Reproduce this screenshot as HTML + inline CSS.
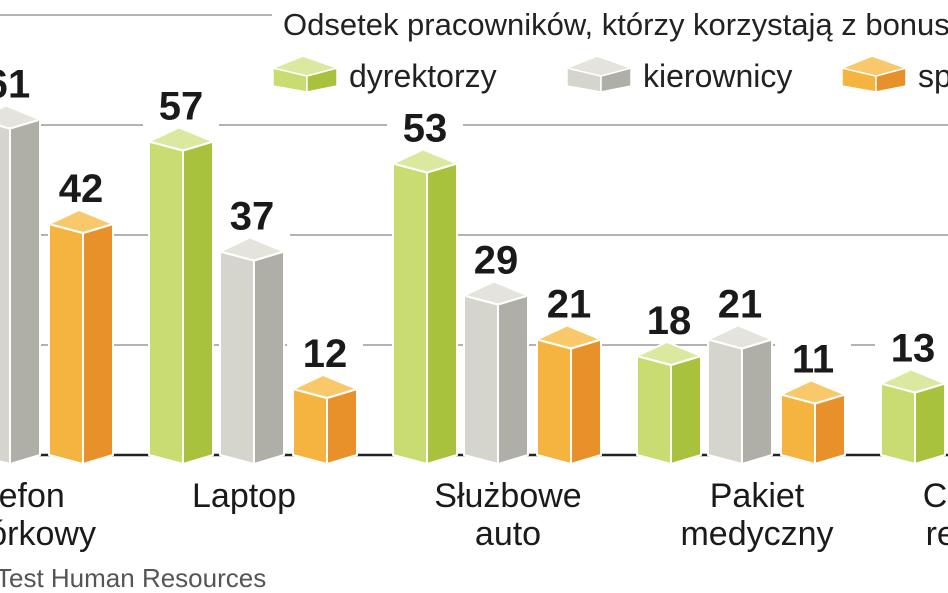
<!DOCTYPE html>
<html><head><meta charset="utf-8"><style>
html,body{margin:0;padding:0;background:#fff;width:948px;height:593px;overflow:hidden}
svg{display:block;font-family:"Liberation Sans","DejaVu Sans",sans-serif}
</style></head><body>
<svg id="chart" width="948" height="593" viewBox="0 0 948 593">
<g id="grid"></g>
<g id="bars"></g>
<g id="labels"></g>
<g id="cats"></g>
<text x="283" y="35" font-size="31" fill="#222">Odsetek pracowników, którzy korzystają z bonusów (%)</text>
<g id="legend"></g>
<text x="-4" y="587" font-size="26" fill="#555">Test Human Resources</text>
</svg>
<script>
const categories = [["Telefon","komórkowy"],["Laptop"],["Służbowe","auto"],["Pakiet","medyczny"],["Częściowa","refundacja","paliwa"]];
const dyrektorzy = [75, 57, 53, 18, 13];
const kierownicy = [61, 37, 29, 21, 19];
const specjalisci = [42, 12, 21, 11, 10];
const seriesNames = ["dyrektorzy","kierownicy","specjaliści"];
const gridTicks = [0, 20, 40, 60, 80];

const NS = "http://www.w3.org/2000/svg";
const base = 455, pxPer = 5.5;
const y = v => base - v * pxPer;
const groupX = i => -95 + i * 244;
const barOffset = [0, 71, 144];
const catShift = [105, 95, 115, 120, 124];
const colors = [["#c8dc72","#a8c23e","#dbe9a0"],["#d5d5cd","#afafa7","#e4e4dc"],["#f5b440","#e8912a","#f8c86a"]];
function mk(tag, attrs, parent){const e=document.createElementNS(NS,tag);for(const k in attrs)e.setAttribute(k,attrs[k]);parent.appendChild(e);return e;}

const grid = document.getElementById('grid');
gridTicks.forEach(t=>{
  const l = mk('line',{x1:0,x2:948,y1:y(t),y2:y(t),stroke:t===0?'#222':'#9a9a9a','stroke-width':t===0?2.5:1.5},grid);
  
  
});
const cov = mk('rect',{x:272,y:0,width:676,height:100,fill:'#fff'},grid);



function bar(g, L, v, c){
  const top = y(v), M = L+34, R = L+64, d = 9;
  const grp = mk('g',{stroke:'#fff','stroke-width':2,'stroke-linejoin':'round'},g);
  mk('polygon',{points:`${L},${top} ${M},${top+d} ${M},${base+d} ${L},${base}`,fill:c[0]},grp);
  mk('polygon',{points:`${M},${top+d} ${R},${top} ${R},${base} ${M},${base+d}`,fill:c[1]},grp);
  mk('polygon',{points:`${L},${top} ${L+30},${top-d-5} ${R},${top} ${M},${top+d}`,fill:c[2]},grp);
  return grp;
}
const bars = document.getElementById('bars'), labels = document.getElementById('labels'), cats = document.getElementById('cats');
const allSeries = [dyrektorzy, kierownicy, specjalisci];
categories.forEach((cat,i)=>{
  allSeries.forEach((s,k)=>{
    const L = groupX(i)+barOffset[k];
    const b = bar(bars, L, s[i], colors[k]);
    
    
    const bg = mk('rect',{x:L-6,y:y(s[i])-56,width:76,height:42,fill:'#fff'},labels);
    
    
    const t = mk('text',{x:L+32,y:y(s[i])-22,'text-anchor':'middle','font-size':40,'font-weight':'bold',fill:'#1a1a1a'},labels);
    t.textContent = s[i];
    
    
  });
  const cx = groupX(i)+catShift[i];
  cat.forEach((line,j)=>{
    const t = mk('text',{x:cx,y:507+j*38,'text-anchor':'middle','font-size':34,fill:'#1a1a1a'},cats);
    t.textContent = line;
    
    
  });
});
const legend = document.getElementById('legend');
const legX = [273, 567, 842];
seriesNames.forEach((n,k)=>{
  const g = mk('g',{},legend);
  
  
  const L = legX[k], T = 60;
  const s = mk('g',{stroke:'#fff','stroke-width':1.5},g);
  mk('polygon',{points:`${L},${T+8} ${L+34},${T+16} ${L+34},${T+32} ${L},${T+26}`,fill:colors[k][0]},s);
  mk('polygon',{points:`${L+34},${T+16} ${L+64},${T+8} ${L+64},${T+26} ${L+34},${T+32}`,fill:colors[k][1]},s);
  mk('polygon',{points:`${L},${T+8} ${L+30},${T-4} ${L+64},${T+8} ${L+34},${T+16}`,fill:colors[k][2]},s);
  const t = mk('text',{x:L+76,y:87,'font-size':32,fill:'#222'},g);
  t.textContent = n;
});
</script>
</body></html>
